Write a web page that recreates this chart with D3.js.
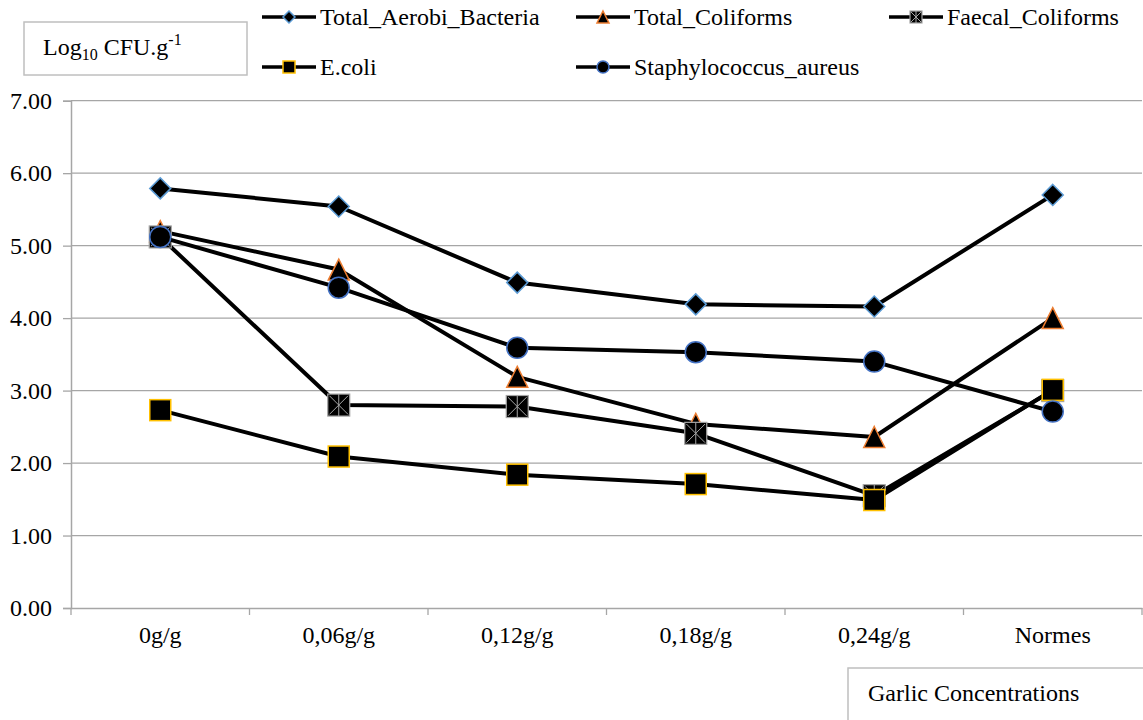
<!DOCTYPE html>
<html>
<head>
<meta charset="utf-8">
<script src="https://cdn.jsdelivr.net/npm/d3@7/dist/d3.min.js"></script>
<style>
  html, body { margin: 0; padding: 0; background: #fff; }
</style>
</head>
<body>
<svg id="chart" width="1143" height="720"></svg>
<script>
const categories = ["0g/g", "0,06g/g", "0,12g/g", "0,18g/g", "0,24g/g", "Normes"];
const seriesNames = ["Total_Aerobi_Bacteria", "Total_Coliforms", "Faecal_Coliforms", "E.coli", "Staphylococcus_aureus"];
const totalAerobi = [5.79, 5.54, 4.49, 4.19, 4.16, 5.70];
const totalColiforms = [5.20, 4.67, 3.19, 2.54, 2.36, 4.00];
const faecalColiforms = [5.12, 2.80, 2.78, 2.41, 1.55, 3.00];
const eColi = [2.73, 2.09, 1.84, 1.71, 1.49, 3.01];
const staphAureus = [5.12, 4.42, 3.59, 3.53, 3.40, 2.71];
const yTicks = [0, 1, 2, 3, 4, 5, 6, 7];

const seriesValues = [totalAerobi, totalColiforms, faecalColiforms, eColi, staphAureus];
const markerTypes = ["diamond", "triangle", "xsquare", "square", "circle"];
const markerStroke = ["#5b9bd5", "#ed7d31", "#a5a5a5", "#ffc000", "#4472c4"];

const FONT = "Times New Roman";
const svg = d3.select("#chart");
const plotLeft = 71, plotRight = 1142, plotTop = 100.7, plotBottom = 608;

const x = d3.scaleBand().domain(categories).range([plotLeft, plotRight]).paddingInner(0).paddingOuter(0);
const y = d3.scaleLinear().domain([0, 7]).range([plotBottom, plotTop]);
const cx = c => x(c) + x.bandwidth() / 2;

// gridlines
svg.append("g").selectAll("line").data(yTicks.filter(t => t > 0)).join("line")
  .attr("x1", plotLeft).attr("x2", plotRight)
  .attr("y1", d => y(d)).attr("y2", d => y(d))
  .attr("stroke", "#a6a6a6").attr("stroke-width", 1.3);

// y axis (lines only; labels drawn as plain text below)
const yAxis = d3.axisLeft(y).tickValues(yTicks).tickFormat("").tickSize(8);
const gy = svg.append("g").attr("transform", `translate(${plotLeft},0)`).call(yAxis);
gy.select(".domain").attr("stroke", "#a6a6a6").attr("stroke-width", 1.5);
gy.selectAll(".tick line").attr("stroke", "#a6a6a6").attr("stroke-width", 1.3);
gy.selectAll(".tick text").remove();
svg.append("g").selectAll("text").data(yTicks).join("text")
  .attr("x", 52).attr("y", d => y(d) + 8).attr("text-anchor", "end")
  .attr("font-size", 24).style("font-family", FONT).attr("fill", "#000")
  .text(d => d3.format(".2f")(d));

// x axis
const xAxis = d3.axisBottom(x).tickSize(0).tickFormat("");
const gx = svg.append("g").attr("transform", `translate(0,${plotBottom})`).call(xAxis);
gx.select(".domain").attr("stroke", "#a6a6a6").attr("stroke-width", 1.5);
gx.selectAll(".tick text").remove();
const bounds = categories.map(c => x(c)).concat([plotRight]);
gx.append("g").selectAll("line").data(bounds).join("line")
  .attr("x1", d => d).attr("x2", d => d).attr("y1", 0).attr("y2", 7)
  .attr("stroke", "#a6a6a6").attr("stroke-width", 1.3);
svg.append("g").selectAll("text").data(categories).join("text")
  .attr("x", d => cx(d)).attr("y", plotBottom + 35).attr("text-anchor", "middle")
  .attr("font-size", 24).style("font-family", FONT).attr("fill", "#000")
  .text(d => d);

function drawMarker(g, type, stroke, s) {
  if (type === "diamond") {
    g.append("path").attr("d", `M0,${-s}L${s},0L0,${s}L${-s},0Z`).attr("fill", "#000").attr("stroke", stroke).attr("stroke-width", 1.5);
  } else if (type === "triangle") {
    g.append("path").attr("d", `M0,${-s}L${s},${s}L${-s},${s}Z`).attr("fill", "#000").attr("stroke", stroke).attr("stroke-width", 1.5);
  } else if (type === "square") {
    g.append("rect").attr("x", -s).attr("y", -s).attr("width", 2 * s).attr("height", 2 * s).attr("fill", "#000").attr("stroke", stroke).attr("stroke-width", 1.5);
  } else if (type === "xsquare") {
    g.append("rect").attr("x", -s).attr("y", -s).attr("width", 2 * s).attr("height", 2 * s).attr("fill", "#000").attr("stroke", stroke).attr("stroke-width", 1.2);
    const k = s * 0.85;
    g.append("path").attr("d", `M${-k},${-k}L${k},${k}M${k},${-k}L${-k},${k}M0,${-s}L0,${s}`).attr("stroke", stroke).attr("stroke-width", 1).attr("fill", "none");
  } else if (type === "circle") {
    g.append("circle").attr("r", s).attr("fill", "#000").attr("stroke", stroke).attr("stroke-width", 1.5);
  }
}

const line = d3.line().x((d, i) => cx(categories[i])).y(d => y(d));
const markerSize = { diamond: 10.5, triangle: 10.5, xsquare: 11, square: 10.5, circle: 10.5 };

seriesValues.forEach((vals, si) => {
  const g = svg.append("g");
  g.append("path").datum(vals).attr("d", line).attr("fill", "none").attr("stroke", "#000").attr("stroke-width", 4).attr("stroke-linejoin", "round");
  vals.forEach((v, i) => {
    const mg = g.append("g").attr("transform", `translate(${cx(categories[i])},${y(v)})`);
    drawMarker(mg, markerTypes[si], markerStroke[si], markerSize[markerTypes[si]]);
  });
});

// legend
const legendPos = [[262, 17], [576, 17], [889, 17], [262, 67], [576, 67]];
seriesNames.forEach((name, i) => {
  const [lx, ly] = legendPos[i];
  const g = svg.append("g").attr("transform", `translate(${lx},${ly})`);
  g.append("line").attr("x1", 0).attr("x2", 54).attr("y1", 0).attr("y2", 0).attr("stroke", "#000").attr("stroke-width", 3.5);
  const mg = g.append("g").attr("transform", "translate(27,0)");
  drawMarker(mg, markerTypes[i], markerStroke[i], 6);
  g.append("text").attr("x", 58).attr("y", 8).attr("font-size", 24).style("font-family", FONT).attr("fill", "#000").text(name);
});

// Y title box
svg.append("rect").attr("x", 24).attr("y", 22).attr("width", 223).attr("height", 53)
  .attr("fill", "#fff").attr("stroke", "#bfbfbf").attr("stroke-width", 1.5);
const t = svg.append("text").attr("x", 43).attr("y", 55).attr("font-size", 24).style("font-family", FONT).attr("fill", "#000");
t.append("tspan").text("Log");
t.append("tspan").attr("font-size", 16).attr("dy", 5).text("10");
t.append("tspan").attr("dy", -5).text(" CFU.g");
t.append("tspan").attr("font-size", 16).attr("dy", -10).text("-1");

// X title box
svg.append("rect").attr("x", 848).attr("y", 668).attr("width", 310).attr("height", 60)
  .attr("fill", "#fff").attr("stroke", "#bfbfbf").attr("stroke-width", 1.5);
svg.append("text").attr("x", 868).attr("y", 701).attr("font-size", 24).style("font-family", FONT).attr("fill", "#000").text("Garlic Concentrations");
</script>
</body>
</html>
